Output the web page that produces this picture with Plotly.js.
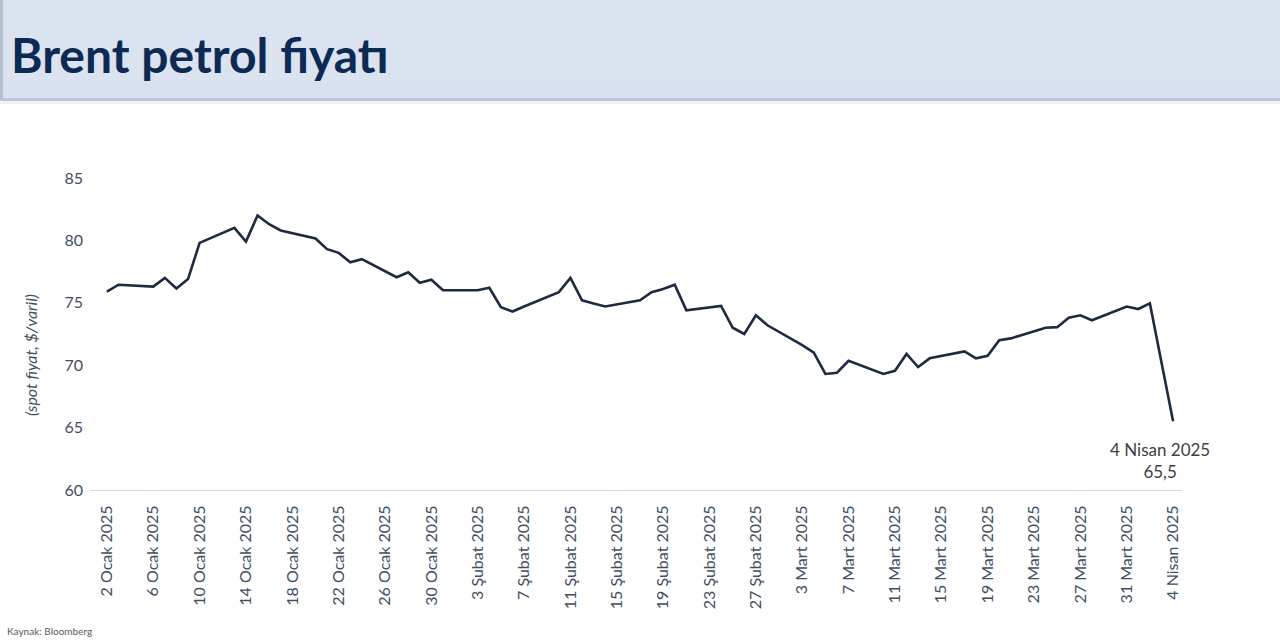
<!DOCTYPE html>
<html>
<head>
<meta charset="utf-8">
<script src="https://cdn.plot.ly/plotly-3.0.1.min.js"></script>
<style>
  html, body { margin: 0; padding: 0; background: #fff; }
  #chart { width: 1280px; height: 640px; }
</style>
</head>
<body>
<div id="chart"></div>
<script>
// Brent spot fiyatı, $/varil
var dates = [
  '2025-01-02','2025-01-03','2025-01-06','2025-01-07','2025-01-08','2025-01-09','2025-01-10',
  '2025-01-13','2025-01-14','2025-01-15','2025-01-16','2025-01-17',
  '2025-01-20','2025-01-21','2025-01-22','2025-01-23','2025-01-24',
  '2025-01-27','2025-01-28','2025-01-29','2025-01-30','2025-01-31',
  '2025-02-03','2025-02-04','2025-02-05','2025-02-06','2025-02-07',
  '2025-02-10','2025-02-11','2025-02-12','2025-02-13','2025-02-14',
  '2025-02-17','2025-02-18','2025-02-19','2025-02-20','2025-02-21',
  '2025-02-24','2025-02-25','2025-02-26','2025-02-27','2025-02-28',
  '2025-03-03','2025-03-04','2025-03-05','2025-03-06','2025-03-07',
  '2025-03-10','2025-03-11','2025-03-12','2025-03-13','2025-03-14',
  '2025-03-17','2025-03-18','2025-03-19','2025-03-20','2025-03-21',
  '2025-03-24','2025-03-25','2025-03-26','2025-03-27','2025-03-28',
  '2025-03-31','2025-04-01','2025-04-02','2025-04-03','2025-04-04'
];
var prices = [
  75.9, 76.45, 76.3, 77.0, 76.15, 76.9, 79.8,
  81.0, 79.9, 82.0, 81.3, 80.8,
  80.15, 79.3, 79.0, 78.25, 78.5,
  77.05, 77.45, 76.6, 76.85, 76.0,
  76.0, 76.2, 74.65, 74.3, 74.7,
  75.85, 77.0, 75.2, 74.95, 74.7,
  75.2, 75.85, 76.1, 76.45, 74.4,
  74.75, 73.0, 72.5, 74.0, 73.2,
  71.6, 71.0, 69.3, 69.4, 70.35,
  69.3, 69.55, 70.9, 69.85, 70.55,
  71.1, 70.55, 70.75, 72.0, 72.15,
  73.0, 73.05, 73.8, 74.0, 73.6,
  74.7, 74.5, 74.95, 70.15, 65.5
];

var tickDates = [
  '2025-01-02','2025-01-06','2025-01-10','2025-01-14','2025-01-18','2025-01-22','2025-01-26','2025-01-30',
  '2025-02-03','2025-02-07','2025-02-11','2025-02-15','2025-02-19','2025-02-23','2025-02-27',
  '2025-03-03','2025-03-07','2025-03-11','2025-03-15','2025-03-19','2025-03-23','2025-03-27','2025-03-31',
  '2025-04-04'
];
var tickLabels = [
  '2 Ocak 2025','6 Ocak 2025','10 Ocak 2025','14 Ocak 2025','18 Ocak 2025','22 Ocak 2025','26 Ocak 2025','30 Ocak 2025',
  '3 Şubat 2025','7 Şubat 2025','11 Şubat 2025','15 Şubat 2025','19 Şubat 2025','23 Şubat 2025','27 Şubat 2025',
  '3 Mart 2025','7 Mart 2025','11 Mart 2025','15 Mart 2025','19 Mart 2025','23 Mart 2025','27 Mart 2025','31 Mart 2025',
  '4 Nisan 2025'
];

var lastLabel = '4 Nisan 2025<br>65,5';

// plot area in pixels
var W = 1280, H = 640;
var mL = 90, mR = 98, mT = 178, mB = 150;
var pw = W - mL - mR, ph = H - mT - mB;
function px(x) { return (x - mL) / pw; }
function py(y) { return (H - mB - y) / ph; }

var txt = '#3f4f63';

var trace = {
  x: dates,
  y: prices,
  type: 'scatter',
  mode: 'lines',
  line: {color: '#1e2a40', width: 2.6},
  hoverinfo: 'x+y'
};

var layout = {
  width: W, height: H,
  margin: {l: mL, r: mR, t: mT, b: mB},
  paper_bgcolor: '#ffffff',
  plot_bgcolor: '#ffffff',
  showlegend: false,
  font: {family: 'Lato, "Open Sans", sans-serif', color: txt},
  xaxis: {
    type: 'date',
    range: ['2024-12-31 13:00', '2025-04-04 18:30'],
    tickmode: 'array',
    tickvals: tickDates,
    ticktext: tickLabels,
    tickangle: -90,
    tickfont: {size: 16, color: txt},
    ticklabelstandoff: 8,
    showgrid: false,
    zeroline: false,
    showline: true,
    linecolor: '#d9d9d9',
    linewidth: 1,
    ticks: ''
  },
  yaxis: {
    range: [60, 85],
    dtick: 5,
    tickfont: {size: 16, color: txt},
    ticklabelstandoff: 6,
    showgrid: false,
    zeroline: false,
    showline: false,
    ticks: ''
  },
  shapes: [
    {type: 'rect', xref: 'paper', yref: 'paper', layer: 'below',
     x0: px(0), x1: px(W), y0: py(0), y1: py(98),
     fillcolor: '#dae3ef', line: {width: 0}},
    {type: 'rect', xref: 'paper', yref: 'paper', layer: 'below',
     x0: px(0), x1: px(W), y0: py(82), y1: py(98),
     fillcolor: '#d9e0f1', line: {width: 0}},
    {type: 'rect', xref: 'paper', yref: 'paper', layer: 'below',
     x0: px(0), x1: px(W), y0: py(98), y1: py(101),
     fillcolor: '#c0c5d2', line: {width: 0}},
    {type: 'rect', xref: 'paper', yref: 'paper', layer: 'below',
     x0: px(0), x1: px(W), y0: py(101), y1: py(104),
     fillcolor: '#eff1f4', line: {width: 0}},
    {type: 'rect', xref: 'paper', yref: 'paper', layer: 'below',
     x0: px(0), x1: px(3), y0: py(0), y1: py(100),
     fillcolor: '#b6bfcd', line: {width: 0}}
  ],
  annotations: [
    {xref: 'paper', yref: 'paper', x: px(9), y: py(54),
     xanchor: 'left', yanchor: 'middle', showarrow: false,
     text: '<b>Brent petrol fiyatı</b>',
     font: {family: 'Lato, "Open Sans", sans-serif', size: 48, color: '#0d2a54'}},
    {xref: 'paper', yref: 'paper', x: px(30), y: py(355),
     xanchor: 'center', yanchor: 'middle', showarrow: false, textangle: -90,
     text: '<i>(spot fiyat, $/varil)</i>',
     font: {size: 16, color: txt}},
    {xref: 'paper', yref: 'paper', x: px(1160), y: py(460),
     xanchor: 'center', yanchor: 'middle', showarrow: false, align: 'center',
     text: lastLabel,
     font: {size: 17, color: '#404040'}},
    {xref: 'paper', yref: 'paper', x: px(5), y: py(631),
     xanchor: 'left', yanchor: 'middle', showarrow: false,
     text: 'Kaynak: Bloomberg',
     font: {size: 10, color: '#595959'}}
  ]
};

Plotly.newPlot('chart', [trace], layout, {displayModeBar: false, staticPlot: true});
</script>
</body>
</html>
